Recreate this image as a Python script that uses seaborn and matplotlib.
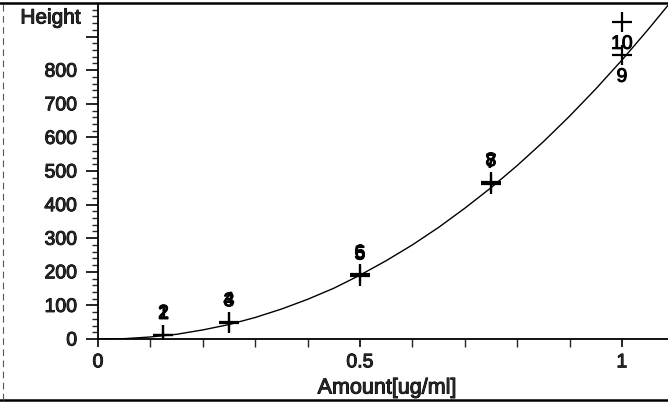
import numpy as np
import pandas as pd
import seaborn as sns
import matplotlib
matplotlib.use("Agg")
import matplotlib.pyplot as plt
import matplotlib.patheffects as pe
from matplotlib.lines import Line2D
from matplotlib.ticker import MultipleLocator, FixedLocator

# calibration levels
levels = [1, 2, 3, 4, 5, 6, 7, 8, 9, 10]
amounts = [0.125, 0.125, 0.25, 0.25, 0.5, 0.5, 0.75, 0.75, 1.0, 1.0]
heights = [11, 13, 49, 51, 188, 192, 462, 466, 845, 943]

# fitted calibration curve
curve_x = [0.0, 0.05, 0.1, 0.15, 0.2, 0.25, 0.3, 0.35, 0.4, 0.45, 0.5, 0.55,
           0.6, 0.65, 0.7, 0.75, 0.8, 0.85, 0.9, 0.95, 1.0, 1.05, 1.088]
curve_y = [0, 1, 6, 14, 27, 43, 64, 89, 118, 151, 190, 233,
           280, 332, 389, 450, 516, 587, 663, 744, 830, 921, 993]

y_labels = [0, 100, 200, 300, 400, 500, 600, 700, 800]

sns.set_style("ticks")
plt.rcParams['font.family'] = ['Liberation Sans', 'DejaVu Sans']

W, H = 668, 404
fig = plt.figure(figsize=(W / 100, H / 100), dpi=100)
ax = fig.add_axes([98 / W, 1 - 339 / H, (W - 98) / W, (339 - 5) / H])

pts = pd.DataFrame({"level": levels, "amount": amounts, "height": heights})
curve = pd.DataFrame({"x": curve_x, "y": curve_y})

heavy = [pe.withStroke(linewidth=0.7, foreground="black")]

sns.lineplot(data=curve, x="x", y="y", ax=ax, color="black", linewidth=1.0)
sns.scatterplot(data=pts, x="amount", y="height", ax=ax, marker="+",
                s=200, color="black", linewidth=1.6, zorder=3)

for lv, xa, ya in zip(levels, amounts, heights):
    if lv >= 9:
        off = -16
    else:
        off = 15
    ax.annotate(str(lv), (xa, ya), xytext=(0, off), textcoords="offset points",
                ha="center", va="center", fontsize=14, color="black",
                path_effects=heavy)

ax.set_xlim(0, 1.088)
ax.set_ylim(0, 994)
ax.xaxis.set_major_locator(FixedLocator([0, 0.5, 1]))
ax.xaxis.set_minor_locator(MultipleLocator(0.1))
ax.yaxis.set_minor_locator(MultipleLocator(20))
ax.set_yticks(list(range(0, 1000, 100)))
ax.set_yticklabels([str(v) for v in y_labels] + [""])
ax.set_xticklabels(["0", "0.5", "1"])
ax.tick_params(axis="both", which="major", labelsize=14, color="black",
               width=1.2, direction="out")
ax.tick_params(axis="y", which="major", length=9, pad=6)
ax.tick_params(axis="y", which="minor", length=4, width=1.0, direction="out")
ax.tick_params(axis="x", which="major", length=6, pad=5)
ax.tick_params(axis="x", which="minor", length=6, width=1.0, direction="out")
for lab in ax.get_xticklabels() + ax.get_yticklabels():
    lab.set_path_effects(heavy)

for s in ["top", "right"]:
    ax.spines[s].set_visible(False)
for s in ["left", "bottom"]:
    ax.spines[s].set_color("black")
    ax.spines[s].set_linewidth(1.3)
ax.set_xlabel("")
ax.set_ylabel("")

fig.text(387 / W, 1 - 388 / H, "Amount[ug/ml]", ha="center", va="center",
         fontsize=15.5, path_effects=heavy)
fig.text(81 / W, 1 - 18 / H, "Height", ha="right", va="center", fontsize=15,
         path_effects=heavy)

# scanned page frame
fig.add_artist(Line2D([0, 1], [1 - 3 / H, 1 - 3 / H], transform=fig.transFigure,
                      color="black", linewidth=1.8))
fig.add_artist(Line2D([0, 1], [1 - 400 / H, 1 - 400 / H], transform=fig.transFigure,
                      color="black", linewidth=1.8))
fig.add_artist(Line2D([3 / W, 3 / W], [1 - 400 / H, 1 - 3 / H], transform=fig.transFigure,
                      color="#555555", linewidth=0.8, linestyle=(0, (6, 4))))

fig.savefig("out.png", dpi=100)
